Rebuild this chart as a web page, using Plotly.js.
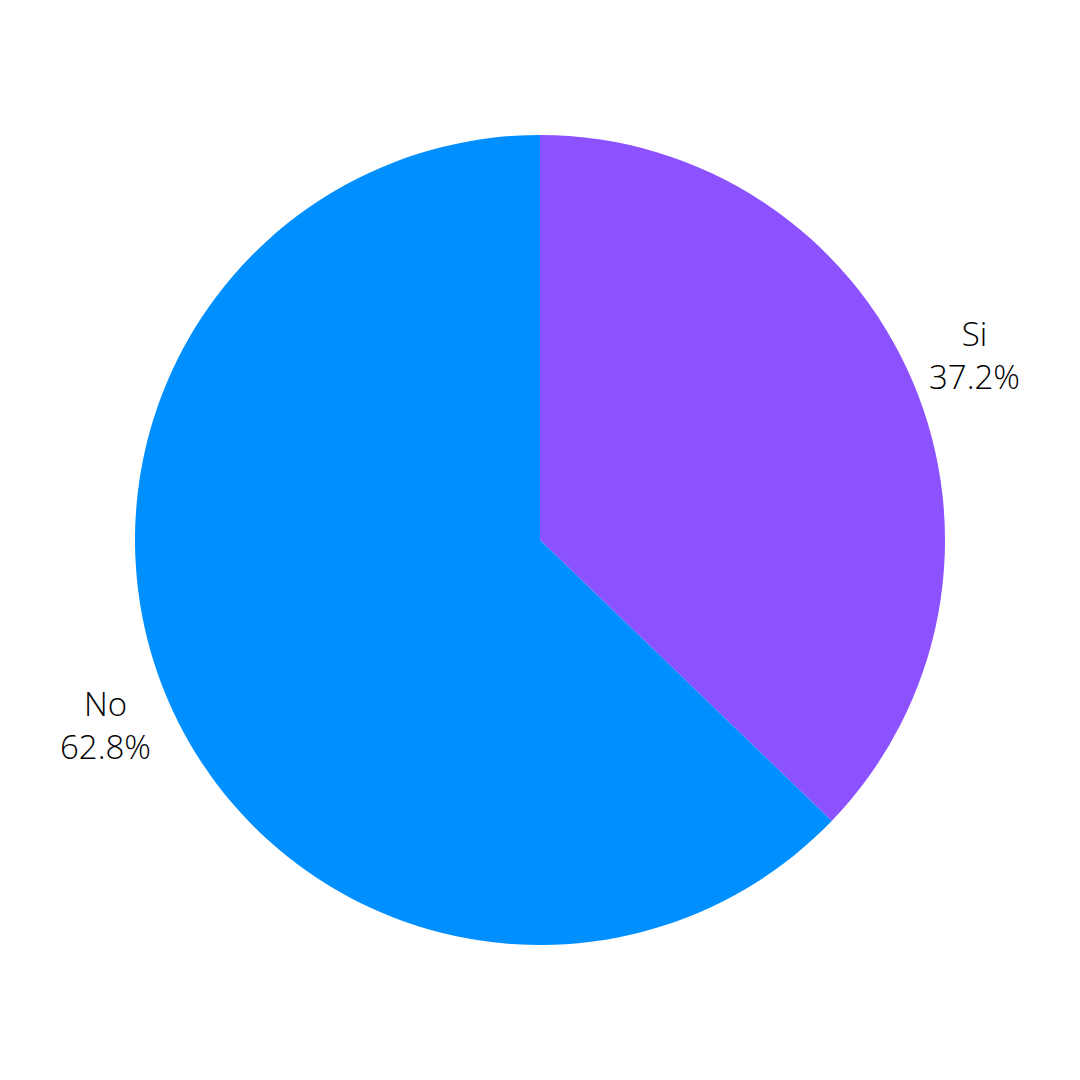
<!DOCTYPE html>
<html>
<head>
<meta charset="utf-8">
<script src="https://cdn.plot.ly/plotly-3.0.1.min.js"></script>
<style>html,body{margin:0;padding:0;background:#fff}#chart{width:1080px;height:1080px}</style>
</head>
<body>
<div id="chart"></div>
<script>
const labels = ["Si", "No"];
const values = [37.2, 62.8];
const colors = ["#8C52FF", "#008FFF"];

const labelFont = {family: "Open Sans", size: 33, color: "#000000", weight: 300};
const labelDistance = 1.167; // label centre distance, as a fraction of the pie radius

const total = values.reduce((a, b) => a + b, 0);
let cum = 0;
const annotations = labels.map((lab, i) => {
  const mid = (cum + values[i] / 2) / total * 2 * Math.PI; // clockwise from 12 o'clock
  cum += values[i];
  const pct = (values[i] / total * 100).toFixed(1) + "%";
  return {
    xref: "paper", yref: "paper",
    x: 0.5 + 0.5 * labelDistance * Math.sin(mid),
    y: 0.5 + 0.5 * labelDistance * Math.cos(mid),
    xanchor: "center", yanchor: "middle",
    text: lab + "<br>" + pct,
    showarrow: false,
    align: "center",
    font: labelFont
  };
});

const data = [{
  type: "pie",
  labels: labels,
  values: values,
  sort: false,
  direction: "clockwise",
  rotation: 0,
  marker: {colors: colors, line: {width: 0}},
  textinfo: "none",
  showlegend: false,
  hoverinfo: "none"
}];

const layout = {
  width: 1080,
  height: 1080,
  margin: {l: 135, r: 135, t: 135, b: 135},
  paper_bgcolor: "#ffffff",
  plot_bgcolor: "#ffffff",
  showlegend: false,
  annotations: annotations
};

Plotly.newPlot("chart", data, layout, {displayModeBar: false, staticPlot: true});
</script>
</body>
</html>
